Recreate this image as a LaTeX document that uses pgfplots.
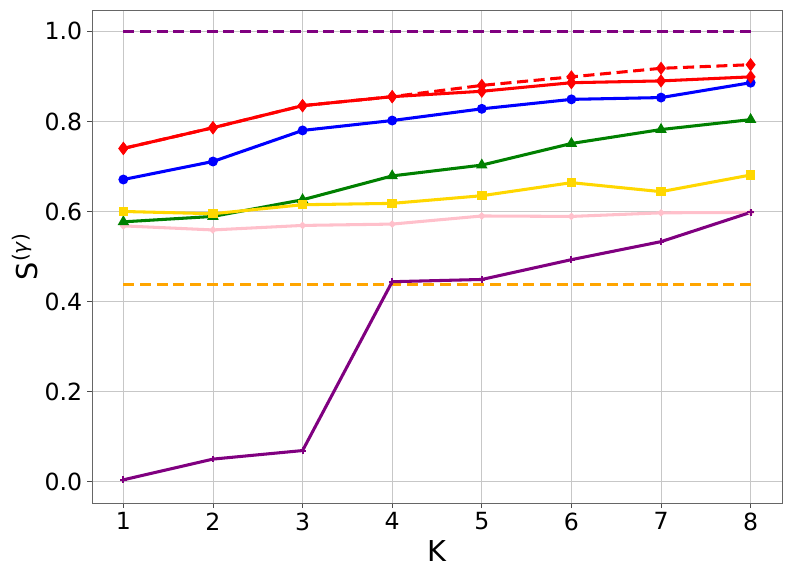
\documentclass[border=0pt]{standalone}
\usepackage{fontspec}
\setmainfont{DejaVu Sans}
\usepackage{pgfplots}
\pgfplotsset{compat=1.18}
\definecolor{mred}{RGB}{255,0,0}
\definecolor{mblue}{RGB}{0,0,255}
\definecolor{mgreen}{RGB}{0,128,0}
\definecolor{mgold}{RGB}{255,215,0}
\definecolor{mpink}{RGB}{255,192,203}
\definecolor{mpurple}{RGB}{128,0,128}
\definecolor{morange}{RGB}{255,165,0}
\begin{document}
\begin{tikzpicture}[x=1pt,y=1pt]
\useasboundingbox (-66.24,-53.28) rectangle (504.72,362.16);
\begin{axis}[
  at={(0,0)}, anchor=south west,
  scale only axis, width=496.8pt, height=354.96pt,
  xmin=0.65, xmax=8.35, ymin=-0.0475, ymax=1.0475,
  xtick={1,2,3,4,5,6,7,8},
  ytick={0,0.2,0.4,0.6,0.8,1.0},
  /pgf/number format/assume math mode=true,
  yticklabel style={/pgf/number format/fixed,/pgf/number format/fixed zerofill,/pgf/number format/precision=1},
  ticklabel style={font=\fontsize{17}{20}\selectfont},
  tick align=outside, tick pos=left,
  major tick length=3.5pt,
  tick style={black!70, line width=0.6pt},
  grid=major, grid style={color=black!22, line width=0.6pt},
  axis line style={black!60, line width=0.6pt},
  xlabel={K}, ylabel={S\textsuperscript{(\textit{γ})}},
  label style={font=\fontsize{20.7}{24}\selectfont},
  xlabel style={yshift=0pt},
  ylabel style={yshift=-2pt},
  every axis plot/.append style={line width=2.2pt},
]
\addplot[morange, dashed, dash pattern=on 8pt off 4pt] coordinates {(1,0.438) (8,0.438)};
\addplot[mpurple, dashed, dash pattern=on 8pt off 4pt] coordinates {(1,1.0) (8,1.0)};
\addplot[mpink, mark=*, mark size=1.2pt] coordinates {(1,0.568) (2,0.559) (3,0.569) (4,0.572) (5,0.590) (6,0.589) (7,0.597) (8,0.598)};
\addplot[mpurple, mark=+, mark size=2.4pt, mark options={line width=1.5pt}] coordinates {(1,0.004) (2,0.050) (3,0.069) (4,0.444) (5,0.449) (6,0.493) (7,0.533) (8,0.598)};
\addplot[mgreen, mark=triangle*, mark size=2.6pt] coordinates {(1,0.577) (2,0.589) (3,0.626) (4,0.679) (5,0.703) (6,0.751) (7,0.782) (8,0.804)};
\addplot[mgold, mark=square*, mark size=2.3pt] coordinates {(1,0.600) (2,0.595) (3,0.615) (4,0.618) (5,0.635) (6,0.664) (7,0.644) (8,0.681)};
\addplot[mblue, mark=*, mark size=2.4pt] coordinates {(1,0.671) (2,0.711) (3,0.780) (4,0.802) (5,0.828) (6,0.849) (7,0.853) (8,0.886)};
\addplot[mred, dashed, dash pattern=on 8pt off 4pt, mark=diamond*, mark size=3pt, mark options={solid}] coordinates {(1,0.740) (2,0.786) (3,0.835) (4,0.855) (5,0.880) (6,0.899) (7,0.918) (8,0.926)};
\addplot[mred, mark=diamond*, mark size=3pt] coordinates {(1,0.740) (2,0.786) (3,0.835) (4,0.855) (5,0.867) (6,0.886) (7,0.890) (8,0.899)};
\end{axis}
\end{tikzpicture}
\end{document}
